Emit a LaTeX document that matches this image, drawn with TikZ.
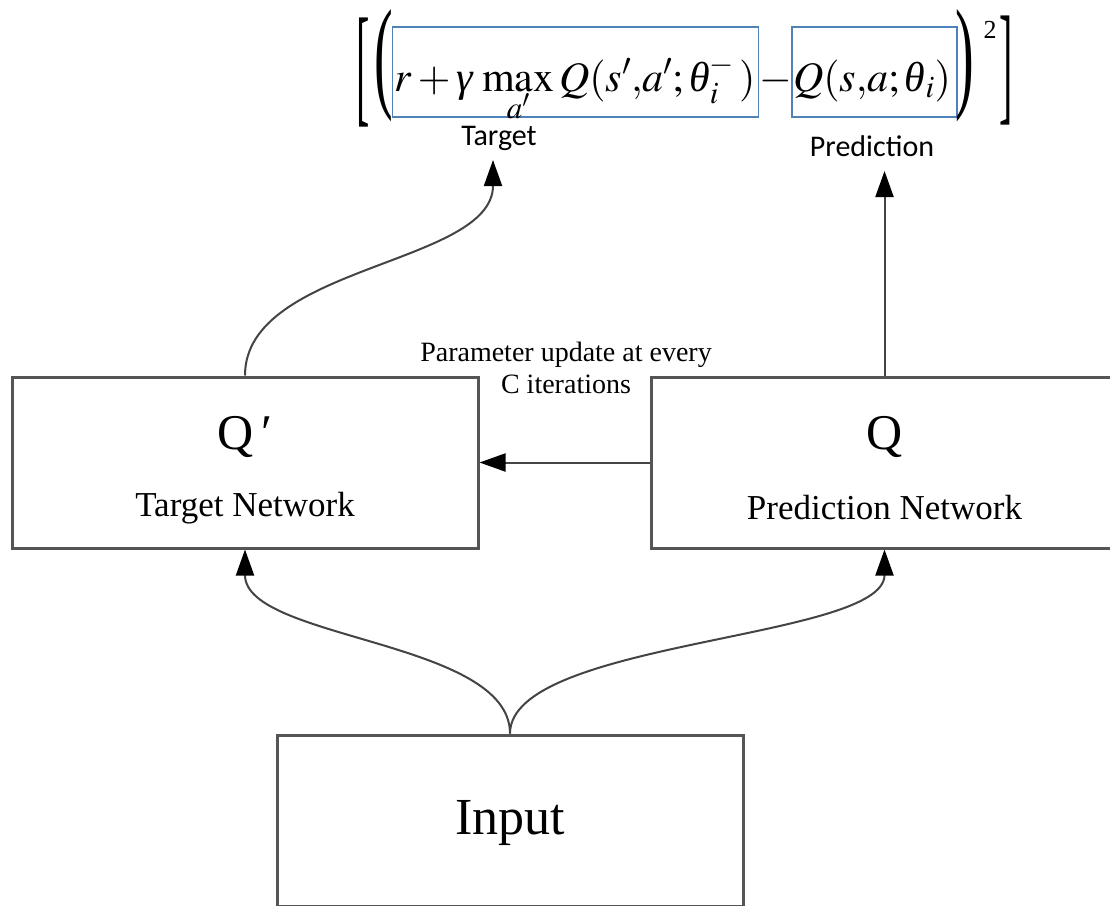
\documentclass[tikz,border=0pt]{standalone}
\usepackage{mathptmx}
\usepackage{fontspec}
\setmainfont{Liberation Serif}
\newfontfamily\lblfont{Carlito}
\usetikzlibrary{arrows.meta}
\definecolor{boxgray}{HTML}{555555}
\definecolor{linegray}{HTML}{444444}
\definecolor{boxblue}{HTML}{4F81BD}
\newcommand{\itgamma}{\mbox{\itshape γ}}
\newcommand{\ittheta}{\mbox{\itshape θ}}
\tikzset{
  netbox/.style={draw=boxgray, line width=3pt, minimum width=466pt, minimum height=171pt, inner sep=0pt},
  bluebox/.style={draw=boxblue, line width=1.4pt, inner sep=0pt, minimum height=90pt},
  conn/.style={draw=linegray, line width=2pt, -{Triangle[length=26pt,width=18pt,color=black]}},
  qtext/.style={font=\fontsize{50}{56}\selectfont, inner sep=0pt},
  nettext/.style={font=\fontsize{35}{40}\selectfont, inner sep=0pt},
  paramtext/.style={font=\fontsize{28}{32}\selectfont, inner sep=0pt},
  lbltext/.style={font=\lblfont\fontsize{30}{34}\selectfont, inner sep=0pt},
  mathtext/.style={font=\fontsize{42}{46}\selectfont, inner sep=0pt, anchor=base},
  delim/.style={font=\fontsize{40}{40}\selectfont, inner sep=0pt}
}
\begin{document}
\begin{tikzpicture}[x=1pt,y=-1pt]
\useasboundingbox (0,0) rectangle (1110,905);
\fill[white] (0,0) rectangle (1110,905);

% network boxes
\node[netbox] (tgt) at (245,462.5) {};
\node[netbox] (pred) at (884.5,462.5) {};
\node[netbox] (inp) at (510,820.5) {};

\node[qtext] (tgtq) at (245,437) {Q\,′};
\node[nettext] (tgtl) at (245,508) {Target Network};
\node[qtext] (predq) at (884.5,437) {Q};
\node[nettext] (predl) at (884.5,508) {Prediction Network};
\node[font=\fontsize{52}{58}\selectfont, inner sep=0pt] (inpl) at (510,823) {Input};

\node[paramtext] (par1) at (566,355) {Parameter update at every};
\node[paramtext] (par2) at (566,384) {C iterations};

% formula
\node[delim] (lbrack) at (363,73) {\scalebox{1}[3.3]{[}};
\node[delim] (lpar) at (384,66) {\scalebox{1.4}[3.1]{(}};
\node[bluebox, minimum width=366pt] (tgtbox) at (575.5,72) {};
\node[bluebox, minimum width=165pt] (predbox) at (874.5,72) {};
\node[mathtext] (tgtmath) at (575,91) {$r+\itgamma\,\mathop{\mathrm{max}}\limits_{\smash{\raisebox{-2pt}{$\scriptstyle a'$}}}Q(s'{,}a';\ittheta_i^-\,)$};
\node[mathtext] (minus) at (775.5,91) {$-$};
\node[mathtext] (predmath) at (872,91) {$Q(s{,}a;\ittheta_i)$};
\node[delim] (rpar) at (965,66) {\scalebox{1.4}[3.1]{)}};
\node[font=\fontsize{26}{26}\selectfont, inner sep=0pt] (sq) at (990,30) {2};
\node[delim] (rbrack) at (1006,71) {\scalebox{1}[3.3]{]}};

\node[lbltext] (tgtlbl) at (499,138) {Target};
\node[lbltext] (predlbl) at (872,146) {Prediction};

\coordinate (tgttip) at (493,160);
\coordinate (predtip) at (884.5,171);

% connectors
\draw[conn] (inp.north) .. controls (510,640) and (245,640) .. (tgt.south);
\draw[conn] (inp.north) .. controls (510,640) and (884.5,640) .. (pred.south);
\draw[conn] (pred.west) -- (tgt.east);
\draw[conn] (tgt.north) .. controls (245,265) and (493,265) .. (tgttip);
\draw[conn] (pred.north) -- (predtip);
\end{tikzpicture}
\end{document}
